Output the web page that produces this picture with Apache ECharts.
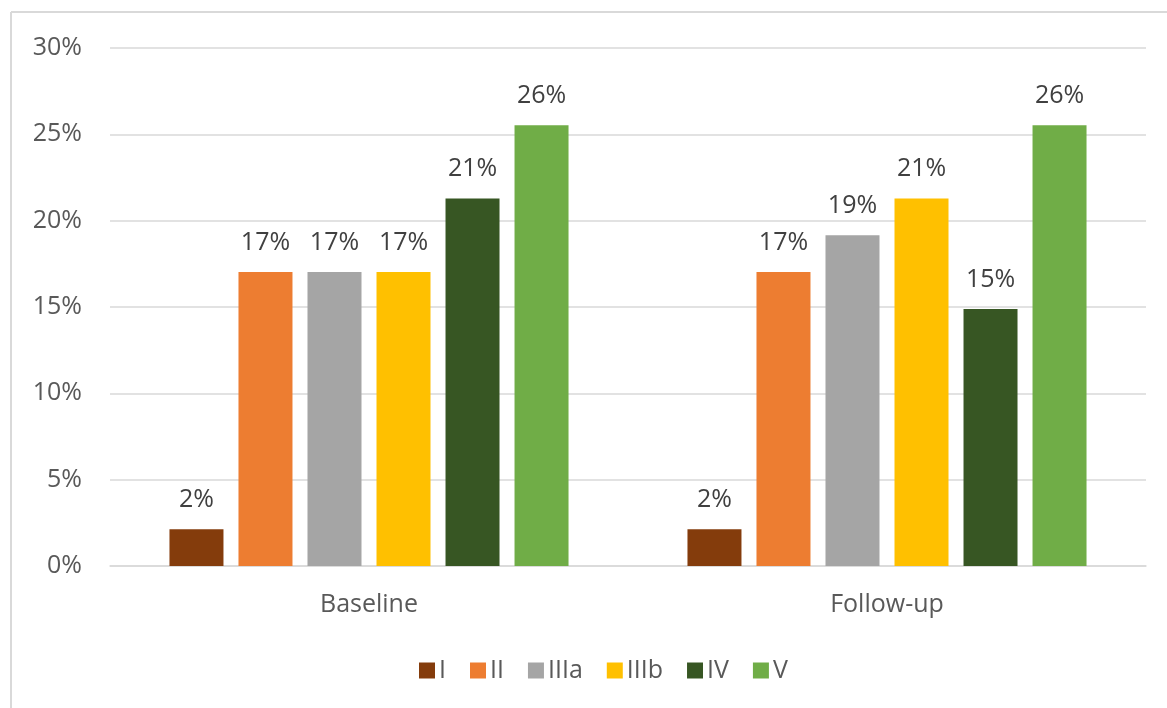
<!DOCTYPE html>
<html>
<head>
<meta charset="utf-8">
<script src="https://cdn.jsdelivr.net/npm/echarts@6/dist/echarts.min.js"></script>
<style>
html,body{margin:0;padding:0;background:#fff;}
#chart{width:1167px;height:708px;}
</style>
</head>
<body>
<div id="chart"></div>
<script>
const categories = ['Baseline', 'Follow-up'];
const seriesNames = ['I', 'II', 'IIIa', 'IIIb', 'IV', 'V'];
const valuesI = [2.13, 2.13];
const valuesII = [17.02, 17.02];
const valuesIIIa = [17.02, 19.15];
const valuesIIIb = [17.02, 21.28];
const valuesIV = [21.28, 14.89];
const valuesV = [25.53, 25.53];
const yTicks = [0, 5, 10, 15, 20, 25, 30];
const colors = ['#843C0C', '#ED7D31', '#A5A5A5', '#FFC000', '#375623', '#70AD47'];

const allValues = [valuesI, valuesII, valuesIIIa, valuesIIIb, valuesIV, valuesV];
const FONT = '"Open Sans", sans-serif';

const chart = echarts.init(document.getElementById('chart'));
chart.setOption({
  animation: false,
  textStyle: { fontFamily: FONT },
  graphic: [
    { type: 'line', shape: { x1: 11, y1: 12, x2: 11, y2: 708 }, style: { stroke: '#d9d9d9', lineWidth: 2 } },
    { type: 'line', shape: { x1: 11, y1: 12, x2: 1167, y2: 12 }, style: { stroke: '#d9d9d9', lineWidth: 2 } }
  ],
  grid: { left: 110, right: 21, top: 48, bottom: 142 },
  legend: {
    data: seriesNames,
    top: 653,
    left: 414,
    itemWidth: 16,
    itemHeight: 16,
    itemGap: 24,
    icon: 'rect',
    textStyle: { fontSize: 25, color: '#595959', fontFamily: FONT, padding: [0, 0, 0, -1] }
  },
  xAxis: {
    type: 'category',
    data: categories,
    axisTick: { show: false },
    axisLine: { lineStyle: { color: '#d9d9d9', width: 1.5 } },
    axisLabel: { fontSize: 25, color: '#595959', margin: 26, fontFamily: FONT }
  },
  yAxis: {
    type: 'value',
    min: yTicks[0],
    max: yTicks[yTicks.length - 1],
    interval: 5,
    axisLine: { show: false },
    axisTick: { show: false },
    splitLine: { lineStyle: { color: '#d9d9d9', width: 1.5 } },
    axisLabel: { fontSize: 25, color: '#595959', margin: 28, formatter: v => v + '%', fontFamily: FONT }
  },
  series: seriesNames.map((name, i) => ({
    name: name,
    type: 'bar',
    data: allValues[i],
    barWidth: 54,
    barGap: '27.8%',
    itemStyle: { color: colors[i] },
    label: {
      show: true,
      position: 'top',
      distance: 17,
      fontSize: 25,
      color: '#404040',
      fontFamily: FONT,
      formatter: p => Math.round(p.value) + '%'
    }
  }))
});
</script>
</body>
</html>
